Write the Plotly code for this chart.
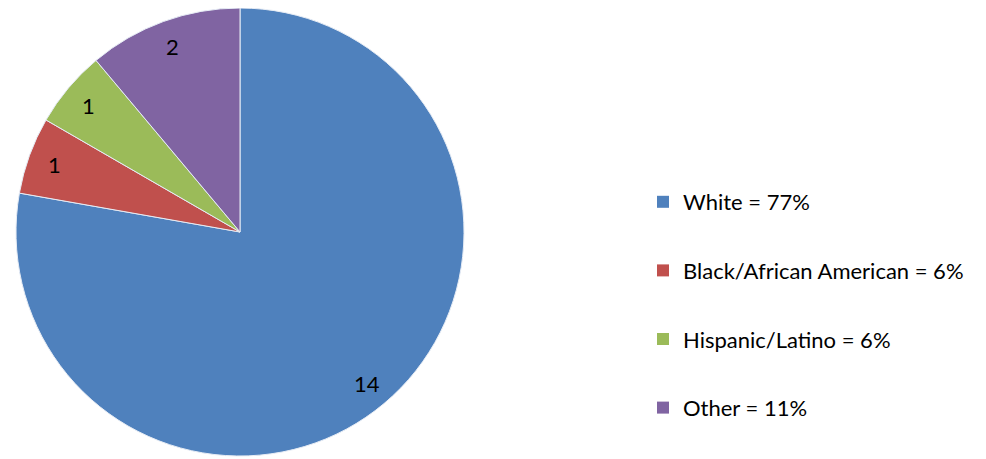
import math
import plotly.graph_objects as go

categories = ["White", "Black/African American", "Hispanic/Latino", "Other"]
counts = [14, 1, 1, 2]
legend_labels = ["White = 77%", "Black/African American = 6%", "Hispanic/Latino = 6%", "Other = 11%"]
colors = ["#4F81BD", "#C0504D", "#9BBB59", "#8064A2"]

# page has an 8px body margin, so the figure is sized to fit the window
W, H = 978, 451
FONT = "Lato"

# pie geometry (pixels in figure space)
CX, CY, R = 232, 224, 224
LABEL_R = 0.88

fig = go.Figure()
fig.add_trace(go.Pie(
    labels=categories,
    values=counts,
    textinfo="none",
    sort=False,
    direction="clockwise",
    rotation=0,
    marker=dict(colors=colors, line=dict(color="#E6ECF5", width=1)),
    domain=dict(x=[(CX - R) / W, (CX + R) / W], y=[1 - (CY + R) / H, 1 - (CY - R) / H]),
    showlegend=False,
    hoverinfo="label+value+percent",
))

# data labels placed along each slice's bisector (computed from the values)
total = sum(counts)
cum = 0
for v in counts:
    mid = (cum + v / 2) / total
    cum += v
    ang = math.radians(90 - 360 * mid)
    px = CX + LABEL_R * R * math.cos(ang)
    py = CY - LABEL_R * R * math.sin(ang)
    fig.add_annotation(
        x=px / W, y=1 - py / H, xref="paper", yref="paper",
        text=str(v), showarrow=False,
        font=dict(family=FONT, size=22, color="#000000"),
        xanchor="center", yanchor="middle",
    )

for lab, col in zip(legend_labels, colors):
    fig.add_trace(go.Scatter(
        x=[None], y=[None], mode="markers",
        marker=dict(symbol="square", size=12, color=col),
        name=lab, legendgroup=lab, showlegend=True,
    ))

fig.update_layout(
    width=W, height=H,
    margin=dict(l=0, r=0, t=0, b=0),
    paper_bgcolor="white", plot_bgcolor="white",
    xaxis=dict(visible=False), yaxis=dict(visible=False),
    legend=dict(
        x=635 / W, y=1 - 297 / H, xanchor="left", yanchor="middle",
        font=dict(family=FONT, size=22, color="#000000"),
        tracegroupgap=37, itemwidth=30,
        bgcolor="rgba(0,0,0,0)",
    ),
    font=dict(family=FONT),
)

fig.write_html("out.html")
